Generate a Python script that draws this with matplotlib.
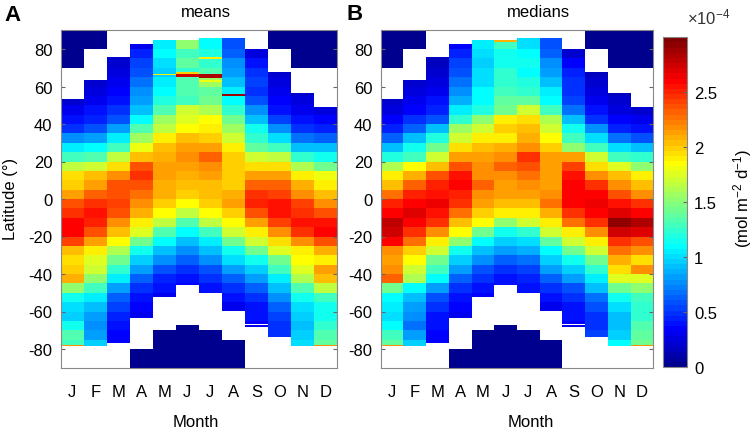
import numpy as np
import matplotlib
matplotlib.use('Agg')
import matplotlib.pyplot as plt
from matplotlib.colors import Normalize, ListedColormap

plt.rcParams['font.family'] = ['Liberation Sans', 'DejaVu Sans']
plt.rcParams['mathtext.fontset'] = 'custom'
plt.rcParams['mathtext.rm'] = 'Liberation Sans'
plt.rcParams['mathtext.it'] = 'Liberation Sans:italic'

N = np.nan
months = ['J', 'F', 'M', 'A', 'M', 'J', 'J', 'A', 'S', 'O', 'N', 'D']
# 5-degree latitude bins, listed from 90N (top) down to 90S
lat_edges = np.arange(90, -91, -5)

# data coverage limits per month (deg latitude)
north_limit = [53.5, 63.5, 75.6, 82.7, 85, 85, 86, 86, 80, 67.6, 56.7, 49]
south_limit = [-78.6, -78.6, -76.8, -63.6, -52.4, -45.7, -50.3, -59.6, -66.7, -73.8, -78.4, -78.6]
# zero-flux (polar night) regions
dark_north = [70, 80, N, N, N, N, N, N, N, 80, 70, 70]
dark_south = [N, N, N, -80, -70, -67, -70, -75, N, N, N, N]

# monthly means (x1e-4 mol m-2 d-1), bins 90..85 down to -85..-90
mean_jan = [N, N, N, N, N, N, N, 0.2, 0.3, 0.4, 0.5, 0.75, 1.05, 1.3, 1.65, 1.95, 2.0, 2.15, 2.35, 2.45, 2.6, 2.6, 2.4, 2.05, 1.95, 2.0, 2.1, 1.5, 1.15, 1.0, 0.95, 1.15, 1.35, 1.3, N, N]
mean_feb = [N, N, N, N, N, 0.2, 0.25, 0.3, 0.4, 0.45, 0.6, 0.8, 1.1, 1.35, 1.7, 2.05, 2.15, 2.3, 2.45, 2.55, 2.5, 2.35, 2.15, 1.9, 1.75, 1.7, 1.5, 1.3, 1.05, 0.9, 0.8, 0.75, 0.8, 0.95, N, N]
mean_mar = [N, N, 0.2, 0.2, 0.25, 0.3, 0.35, 0.4, 0.5, 0.6, 0.8, 1.05, 1.3, 1.65, 1.95, 2.2, 2.35, 2.35, 2.4, 2.35, 2.2, 2.05, 1.85, 1.6, 1.45, 1.25, 1.05, 0.8, 0.65, 0.55, 0.45, 0.4, 0.35, 0.35, N, N]
mean_apr = [N, 0.3, 0.45, 0.55, 0.6, 0.7, 0.75, 0.8, 0.9, 1.1, 1.35, 1.55, 1.8, 2.05, 2.35, 2.45, 2.35, 2.25, 2.2, 2.1, 1.9, 1.75, 1.45, 1.15, 0.95, 0.8, 0.65, 0.5, 0.4, 0.35, 0.3, N, N, N, N, N]
mean_may = [N, 1.05, 1.1, 1.0, 0.95, 1.05, 1.1, 1.2, 1.35, 1.55, 1.65, 1.9, 2.05, 2.1, 2.15, 2.15, 2.1, 2.1, 2.0, 1.85, 1.65, 1.35, 1.1, 0.9, 0.75, 0.6, 0.45, 0.38, 0.3, N, N, N, N, N, N, N]
mean_jun = [N, 1.5, 1.3, 1.4, 1.25, 1.35, 1.35, 1.3, 1.7, 1.75, 1.85, 2.05, 2.15, 2.2, 2.15, 2.1, 2.05, 2.0, 1.85, 1.65, 1.35, 1.1, 0.9, 0.75, 0.65, 0.5, 0.4, 0.35, N, N, N, N, N, N, N, N]
mean_jul = [1.1, 1.1, 1.2, 1.25, 1.35, 1.55, 1.4, 1.45, 1.6, 1.85, 1.9, 2.0, 2.15, 2.3, 2.2, 2.15, 2.05, 2.05, 2.0, 1.85, 1.65, 1.3, 1.05, 0.9, 0.75, 0.6, 0.5, 0.38, 0.35, N, N, N, N, N, N, N]
mean_aug = [0.6, 0.6, 0.65, 0.75, 0.8, 0.9, 1.05, 1.1, 1.25, 1.45, 1.55, 1.7, 1.9, 2.0, 2.0, 2.0, 2.0, 2.1, 2.15, 2.0, 1.85, 1.7, 1.45, 1.15, 1.0, 0.8, 0.65, 0.5, 0.4, 0.32, N, N, N, N, N, N]
mean_sep = [N, N, 0.25, 0.4, 0.5, 0.55, 0.5, 0.6, 0.75, 0.9, 1.15, 1.25, 1.4, 1.7, 1.95, 2.15, 2.3, 2.45, 2.5, 2.35, 2.15, 1.9, 1.7, 1.45, 1.15, 0.95, 0.8, 0.65, 0.5, 0.4, 0.38, 0.35, N, N, N, N]
mean_oct = [N, N, N, N, 0.2, 0.25, 0.3, 0.35, 0.4, 0.55, 0.75, 1.0, 1.3, 1.65, 1.95, 2.15, 2.3, 2.4, 2.55, 2.55, 2.4, 2.2, 1.95, 1.75, 1.45, 1.3, 1.05, 0.9, 0.75, 0.65, 0.55, 0.5, 0.5, N, N, N]
mean_nov = [N, N, N, N, N, N, 0.2, 0.25, 0.3, 0.4, 0.5, 0.7, 0.9, 1.25, 1.6, 1.9, 2.1, 2.2, 2.4, 2.45, 2.55, 2.45, 2.2, 1.9, 1.85, 1.75, 1.6, 1.35, 1.15, 1.0, 0.95, 0.9, 0.95, 1.0, N, N]
mean_dec = [N, N, N, N, N, N, N, N, 0.25, 0.35, 0.45, 0.65, 0.9, 1.15, 1.45, 1.8, 1.9, 2.05, 2.2, 2.35, 2.55, 2.6, 2.35, 2.1, 1.9, 2.15, 2.05, 1.65, 1.3, 1.15, 1.15, 1.25, 1.35, 1.4, N, N]

# monthly medians
med_jan = [N, N, N, N, N, N, N, 0.2, 0.25, 0.35, 0.45, 0.65, 0.9, 1.2, 1.6, 1.9, 2.05, 2.25, 2.5, 2.6, 2.8, 2.75, 2.6, 2.2, 2.15, 2.2, 2.3, 1.45, 1.1, 1.05, 1.0, 1.1, 1.3, 1.4, N, N]
med_feb = [N, N, N, N, N, 0.2, 0.25, 0.3, 0.35, 0.5, 0.65, 0.9, 1.15, 1.3, 1.85, 2.1, 2.3, 2.5, 2.6, 2.7, 2.6, 2.45, 2.25, 2.0, 1.85, 1.7, 1.6, 1.1, 0.9, 0.8, 0.75, 0.7, 0.8, 0.95, N, N]
med_mar = [N, N, 0.15, 0.15, 0.2, 0.25, 0.3, 0.38, 0.45, 0.6, 0.9, 1.2, 1.45, 1.7, 2.05, 2.35, 2.5, 2.55, 2.65, 2.55, 2.45, 2.2, 1.9, 1.7, 1.45, 1.3, 1.1, 0.8, 0.6, 0.5, 0.42, 0.38, 0.33, 0.33, N, N]
med_apr = [N, 0.35, 0.45, 0.55, 0.6, 0.7, 0.75, 0.85, 1.05, 1.25, 1.55, 1.7, 1.95, 2.15, 2.35, 2.55, 2.6, 2.5, 2.45, 2.25, 2.05, 1.85, 1.5, 1.15, 0.95, 0.8, 0.65, 0.5, 0.4, 0.35, 0.3, N, N, N, N, N]
med_may = [N, 1.05, 1.0, 0.95, 1.0, 1.0, 1.1, 1.1, 1.2, 1.5, 1.7, 1.9, 2.05, 2.15, 2.2, 2.2, 2.3, 2.2, 2.15, 2.0, 1.85, 1.45, 1.1, 0.9, 0.75, 0.6, 0.5, 0.4, 0.35, N, N, N, N, N, N, N]
med_jun = [N, 1.3, 1.15, 1.15, 1.25, 1.25, 1.3, 1.4, 1.45, 1.9, 2.0, 1.9, 2.1, 2.2, 2.3, 2.2, 2.15, 2.15, 2.05, 1.9, 1.5, 1.15, 0.95, 0.8, 0.65, 0.5, 0.42, 0.4, N, N, N, N, N, N, N, N]
med_jul = [1.0, 1.0, 1.1, 1.15, 1.1, 1.2, 1.25, 1.4, 1.7, 1.95, 2.05, 2.1, 2.2, 2.45, 2.35, 2.25, 2.2, 2.15, 2.05, 1.9, 1.7, 1.25, 1.0, 0.85, 0.7, 0.55, 0.45, 0.38, 0.35, N, N, N, N, N, N, N]
med_aug = [0.6, 0.6, 0.65, 0.75, 0.8, 0.9, 1.05, 1.1, 1.3, 1.6, 1.7, 1.85, 2.0, 2.15, 2.15, 2.15, 2.15, 2.2, 2.25, 2.1, 1.9, 1.7, 1.4, 1.1, 0.95, 0.8, 0.65, 0.5, 0.4, 0.32, N, N, N, N, N, N]
med_sep = [N, N, 0.2, 0.35, 0.45, 0.5, 0.5, 0.55, 0.7, 0.9, 1.15, 1.3, 1.5, 2.15, 2.4, 2.55, 2.6, 2.6, 2.6, 2.45, 2.25, 1.9, 1.7, 1.45, 1.15, 0.95, 0.8, 0.6, 0.5, 0.42, 0.38, 0.35, N, N, N, N]
med_oct = [N, N, N, N, 0.15, 0.2, 0.25, 0.3, 0.38, 0.5, 0.75, 1.0, 1.3, 1.7, 1.95, 2.2, 2.45, 2.6, 2.65, 2.6, 2.45, 2.2, 1.9, 1.7, 1.45, 1.25, 1.05, 0.9, 0.7, 0.6, 0.5, 0.5, 0.55, N, N, N]
med_nov = [N, N, N, N, N, N, 0.15, 0.2, 0.28, 0.35, 0.45, 0.7, 1.0, 1.3, 1.75, 2.05, 2.2, 2.35, 2.55, 2.7, 2.95, 2.75, 2.45, 2.25, 2.1, 1.95, 1.75, 1.45, 1.15, 1.0, 0.9, 0.9, 0.95, 1.1, N, N]
med_dec = [N, N, N, N, N, N, N, N, 0.2, 0.3, 0.4, 0.6, 0.9, 1.25, 1.5, 1.9, 2.05, 2.2, 2.45, 2.6, 2.85, 2.7, 2.35, 2.2, 1.95, 2.2, 1.75, 1.5, 1.3, 1.25, 1.25, 1.35, 1.4, 1.45, N, N]

means = [mean_jan, mean_feb, mean_mar, mean_apr, mean_may, mean_jun,
         mean_jul, mean_aug, mean_sep, mean_oct, mean_nov, mean_dec]
medians = [med_jan, med_feb, med_mar, med_apr, med_may, med_jun,
           med_jul, med_aug, med_sep, med_oct, med_nov, med_dec]

# narrow anomalous stripes: (month index, lat low, lat high, value)
stripes_mean = [(0, -78.6, -77.8, 2.2), (11, -78.6, -77.8, 2.2),
                (4, 66.0, 66.8, 1.9), (5, 66.8, 67.5, 2.0), (5, 65.3, 66.8, 2.75),
                (6, 64.6, 66.6, 2.85), (6, 74.8, 75.8, 1.9), (6, 62.5, 63.3, 1.8),
                (7, 54.9, 55.8, 2.9), (8, -68.2, -67.3, 0.3)]
stripes_med = [(0, -78.6, -77.6, 2.2), (11, -78.6, -77.8, 2.2),
               (5, 84.0, 85.0, 2.1), (8, -68.2, -67.3, 0.3)]


def matlab_jet(m=64):
    n = int(np.ceil(m / 4))
    u = np.concatenate([np.arange(1, n + 1) / n, np.ones(n - 1), np.arange(n, 0, -1) / n])
    g = int(np.ceil(n / 2)) - (1 if m % 4 == 1 else 0) + np.arange(1, len(u) + 1)
    r = g + n
    b = g - n
    J = np.zeros((m, 3))
    ok = r <= m
    J[r[ok] - 1, 0] = u[ok]
    ok = g <= m
    J[g[ok] - 1, 1] = u[ok]
    ok = b >= 1
    J[b[ok] - 1, 2] = u[ok]
    return ListedColormap(J)


cmap = matlab_jet(64)
norm = Normalize(vmin=0, vmax=3.0)

fig = plt.figure(figsize=(7.54, 4.31), dpi=100)
W, H = 754.0, 431.0
axA = fig.add_axes([60.7 / W, (H - 368.75) / H, 276.3 / W, 337.5 / H])
axB = fig.add_axes([380.7 / W, (H - 368.75) / H, 272.6 / W, 337.5 / H])
cax = fig.add_axes([663 / W, (H - 368.3) / H, 24 / W, 330 / H])


def draw_panel(ax, cols, stripes):
    qm = None
    for m in range(12):
        x = [m + 0.5, m + 1.5]
        e = np.clip(lat_edges, south_limit[m], north_limit[m])
        c = np.ma.masked_invalid(np.array(cols[m], float)[:, None])
        qm = ax.pcolormesh(x, e, c, cmap=cmap, norm=norm)
        if not np.isnan(dark_north[m]):
            ax.pcolormesh(x, [dark_north[m], 90], [[0.0]], cmap=cmap, norm=norm)
        if not np.isnan(dark_south[m]):
            ax.pcolormesh(x, [-90, dark_south[m]], [[0.0]], cmap=cmap, norm=norm)
    for (m, lo, hi, v) in stripes:
        ax.pcolormesh([m + 0.5, m + 1.5], [lo, hi], [[v]], cmap=cmap, norm=norm)
    ax.set_xlim(0.5, 12.5)
    ax.set_ylim(-90, 90)
    ax.set_xticks(range(1, 13))
    ax.set_xticklabels(months, fontsize=12)
    ax.set_yticks(range(-80, 81, 20))
    ax.set_yticklabels([str(v) for v in range(-80, 81, 20)], fontsize=12)
    ax.tick_params(axis='x', length=0, pad=12)
    ax.tick_params(axis='y', direction='in', length=3, pad=6, right=True,
                   color='#666666')
    for s in ax.spines.values():
        s.set_color('#888888')
        s.set_linewidth(0.8)
    return qm


qm = draw_panel(axA, means, stripes_mean)
draw_panel(axB, medians, stripes_med)

cb = fig.colorbar(qm, cax=cax)
cb.set_ticks([0, 0.5, 1, 1.5, 2, 2.5])
cb.set_ticklabels(['0', '0.5', '1', '1.5', '2', '2.5'])
cb.ax.tick_params(labelsize=12, direction='in', length=3, pad=5, color='#666666')
cb.outline.set_edgecolor('#888888')
cb.outline.set_linewidth(0.8)


def fx(px):
    return px / W


def fy(py):
    return 1 - py / H


fig.text(fx(4), fy(21), 'A', fontsize=16, fontweight='bold', ha='left', va='baseline')
fig.text(fx(206), fy(17), 'means', fontsize=12, ha='center', va='baseline')
fig.text(fx(346), fy(20.5), 'B', fontsize=16, fontweight='bold', ha='left', va='baseline')
fig.text(fx(538), fy(17), 'medians', fontsize=12, ha='center', va='baseline')
fig.text(fx(196), fy(427), 'Month', fontsize=12, ha='center', va='baseline')
fig.text(fx(531), fy(427), 'Month', fontsize=12, ha='center', va='baseline')
fig.text(fx(11), fy(199), 'Latitude (°)', fontsize=12, rotation=90, ha='center', va='center')
fig.text(fx(687), fy(17), r'$\times$10$^{-4}$', fontsize=12, ha='left', va='center', color='#333333')
fig.text(fx(743), fy(199), r'(mol m$^{-2}$ d$^{-1}$)', fontsize=12, rotation=90,
         ha='center', va='center')

fig.savefig('out.png', dpi=100)
